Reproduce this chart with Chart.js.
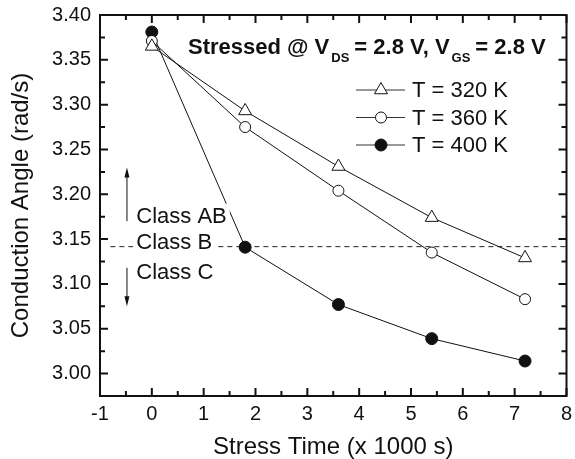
<!DOCTYPE html>
<html>
<head>
<meta charset="utf-8">
<script src="https://cdn.jsdelivr.net/npm/chart.js@4.4.0/dist/chart.umd.min.js"></script>
<style>
  html, body { margin: 0; padding: 0; background: #fff; }
  #wrap { width: 575px; height: 459px; }
</style>
</head>
<body>
<div id="wrap"><canvas id="angleChart" width="575" height="459"></canvas></div>
<script>
// stress time in units of 1000 s
let stressTime = [0, 1.8, 3.6, 5.4, 7.2];
let angle320 = [3.365, 3.293, 3.231, 3.174, 3.129];
let angle360 = [3.371, 3.275, 3.204, 3.135, 3.083];
let angle400 = [3.381, 3.141, 3.077, 3.039, 3.014];
let seriesLabels = ['T = 320 K', 'T = 360 K', 'T = 400 K'];
let xTicks = [-1, 0, 1, 2, 3, 4, 5, 6, 7, 8];
let yTicks = [3.00, 3.05, 3.10, 3.15, 3.20, 3.25, 3.30, 3.35, 3.40];
let classB = Math.PI; // conduction angle at the class B boundary

let FONT = "'Liberation Sans', Arial, Helvetica, sans-serif";
let INK = '#111';

function toPoints(ys) {
    return stressTime.map(function(x, i) { return {x: x, y: ys[i]}; });
}

let seriesStyle = [
    {pointStyle: 'triangle', radius: 7.5, fill: '#fff'},
    {pointStyle: 'circle', radius: 5.5, fill: '#fff'},
    {pointStyle: 'circle', radius: 6, fill: '#111'}
];

let datasets = [angle320, angle360, angle400].map(function(ys, i) {
    let st = seriesStyle[i];
    return {
        label: seriesLabels[i],
        data: toPoints(ys),
        borderColor: INK,
        borderWidth: 1,
        pointStyle: st.pointStyle,
        pointRadius: st.radius,
        pointHoverRadius: st.radius,
        pointBackgroundColor: st.fill,
        pointBorderColor: INK,
        pointBorderWidth: 1,
        tension: 0,
        fill: false
    };
});

// marker for the legend, same shapes the chart uses
function marker(ctx, style, x, y) {
    ctx.save();
    ctx.lineWidth = 1;
    ctx.strokeStyle = INK;
    ctx.fillStyle = style.fill;
    ctx.beginPath();
    if (style.pointStyle === 'triangle') {
        let r = style.radius;
        let a = 0;
        ctx.moveTo(x + Math.sin(a) * r, y - Math.cos(a) * r);
        a += 2 * Math.PI / 3;
        ctx.lineTo(x + Math.sin(a) * r, y - Math.cos(a) * r);
        a += 2 * Math.PI / 3;
        ctx.lineTo(x + Math.sin(a) * r, y - Math.cos(a) * r);
        ctx.closePath();
    } else {
        ctx.arc(x, y, style.radius, 0, Math.PI * 2);
    }
    ctx.fill();
    ctx.stroke();
    ctx.restore();
}

function arrow(ctx, x, y0, y1) {
    let dir = y1 < y0 ? -1 : 1;
    ctx.save();
    ctx.strokeStyle = INK;
    ctx.fillStyle = INK;
    ctx.lineWidth = 1;
    ctx.beginPath();
    ctx.moveTo(x, y0);
    ctx.lineTo(x, y1 - dir * 6);
    ctx.stroke();
    ctx.beginPath();
    ctx.moveTo(x, y1);
    ctx.lineTo(x - 2.5, y1 - dir * 10);
    ctx.lineTo(x + 2.5, y1 - dir * 10);
    ctx.closePath();
    ctx.fill();
    ctx.restore();
}

// class B reference line under the data
let classLine = {
    id: 'classLine',
    beforeDatasetsDraw(chart) {
        let ctx = chart.ctx, xs = chart.scales.x, ys = chart.scales.y;
        let y = ys.getPixelForValue(classB);
        ctx.save();
        ctx.strokeStyle = '#222';
        ctx.lineWidth = 1;
        ctx.setLineDash([5, 4]);
        ctx.beginPath();
        ctx.moveTo(xs.getPixelForValue(-0.8), y);
        ctx.lineTo(xs.getPixelForValue(8), y);
        ctx.stroke();
        ctx.restore();
    }
};

// frame, inward ticks, class labels, heading and legend
let decorations = {
    id: 'decorations',
    afterDatasetsDraw(chart) {
        let ctx = chart.ctx, a = chart.chartArea;
        let xs = chart.scales.x, ys = chart.scales.y;

        // class labels on white boxes
        ctx.save();
        ctx.font = '22px ' + FONT;
        ctx.textBaseline = 'alphabetic';
        ctx.textAlign = 'left';
        let lx = xs.getPixelForValue(-0.3);
        [['Class AB', 3.1684], ['Class B', 3.1385], ['Class C', 3.1058]].forEach(function(c) {
            let by = ys.getPixelForValue(c[1]);
            let w = ctx.measureText(c[0]).width;
            ctx.fillStyle = '#fff';
            ctx.fillRect(lx - 3, by - 19, w + 6, 24);
            ctx.fillStyle = INK;
            ctx.fillText(c[0], lx, by);
        });
        ctx.restore();

        let ax = xs.getPixelForValue(-0.48);
        arrow(ctx, ax, ys.getPixelForValue(3.170), ys.getPixelForValue(3.230));
        arrow(ctx, ax, ys.getPixelForValue(3.118), ys.getPixelForValue(3.075));

        // frame + ticks on all four sides
        ctx.save();
        ctx.strokeStyle = INK;
        ctx.lineWidth = 2;
        ctx.strokeRect(a.left, a.top, a.right - a.left, a.bottom - a.top);
        ctx.beginPath();
        for (let i = 0; i < xTicks.length; i++) {
            let v = xTicks[i];
            let px = xs.getPixelForValue(v);
            ctx.moveTo(px, a.bottom); ctx.lineTo(px, a.bottom - 8);
            ctx.moveTo(px, a.top); ctx.lineTo(px, a.top + 8);
            if (i < xTicks.length - 1) {
                let mx = xs.getPixelForValue(v + 0.5);
                ctx.moveTo(mx, a.bottom); ctx.lineTo(mx, a.bottom - 5);
                ctx.moveTo(mx, a.top); ctx.lineTo(mx, a.top + 5);
            }
        }
        for (let i = 0; i < yTicks.length; i++) {
            let v = yTicks[i];
            let py = ys.getPixelForValue(v);
            ctx.moveTo(a.left, py); ctx.lineTo(a.left + 8, py);
            ctx.moveTo(a.right, py); ctx.lineTo(a.right - 8, py);
            if (i < yTicks.length - 1) {
                let my = ys.getPixelForValue(v + 0.025);
                ctx.moveTo(a.left, my); ctx.lineTo(a.left + 5, my);
                ctx.moveTo(a.right, my); ctx.lineTo(a.right - 5, my);
            }
        }
        ctx.stroke();
        ctx.restore();

        // heading with subscripts
        ctx.save();
        ctx.fillStyle = INK;
        ctx.textBaseline = 'alphabetic';
        ctx.textAlign = 'left';
        let big = 'bold 22px ' + FONT, small = 'bold 13px ' + FONT;
        let parts = [
            ['Stressed @ V', big, 0], ['DS', small, 8], ['= 2.8 V, V', big, 0],
            ['GS', small, 8], ['= 2.8 V', big, 0]
        ];
        let hx = a.left + 88, hy = a.top + 38.5;
        parts.forEach(function(p) {
            ctx.font = p[1];
            ctx.fillText(p[0], hx + (p[2] ? 2 : 0), hy + p[2]);
            hx += ctx.measureText(p[0]).width + (p[2] ? 7 : 0);
        });
        ctx.restore();

        // legend
        ctx.save();
        ctx.font = '22px ' + FONT;
        ctx.textBaseline = 'middle';
        ctx.textAlign = 'left';
        let rows = [75, 102.5, 130];
        seriesLabels.forEach(function(lab, i) {
            let y = a.top + rows[i];
            let x0 = a.left + 256;
            ctx.strokeStyle = '#333';
            ctx.lineWidth = 1;
            ctx.beginPath();
            ctx.moveTo(x0, y); ctx.lineTo(x0 + 49, y);
            ctx.stroke();
            marker(ctx, seriesStyle[i], x0 + 25, y);
            ctx.fillStyle = INK;
            ctx.fillText(lab, x0 + 56, y + 1);
        });
        ctx.restore();
    }
};

let ctx = document.getElementById('angleChart').getContext('2d');
let angleChart = new Chart(ctx, {
    type: 'line',
    data: { datasets: datasets },
    options: {
        responsive: false,
        animation: false,
        events: [],
        layout: { padding: { left: 0, top: 15, right: 7, bottom: 0 } },
        plugins: { legend: { display: false }, tooltip: { enabled: false } },
        scales: {
            x: {
                type: 'linear',
                min: -1,
                max: 8,
                afterFit: function(s) {
                    s.height = 63;
                    s.paddingLeft = 0;
                    s.paddingRight = 0;
                },
                afterBuildTicks: function(s) { s.ticks = xTicks.map(function(v) { return {value: v}; }); },
                grid: { display: false, drawTicks: false },
                border: { display: false },
                ticks: {
                    padding: 6,
                    color: INK,
                    font: { family: FONT, size: 20 },
                    maxRotation: 0,
                    callback: function(v) { return String(v); }
                },
                title: {
                    display: true,
                    text: 'Stress Time (x 1000 s)',
                    color: INK,
                    font: { family: FONT, size: 24 },
                    padding: { top: 0, bottom: -3 }
                }
            },
            y: {
                type: 'linear',
                min: 2.975,
                max: 3.40,
                afterFit: function(s) {
                    s.width = 100;
                    s.paddingTop = 0;
                    s.paddingBottom = 0;
                },
                afterBuildTicks: function(s) { s.ticks = yTicks.map(function(v) { return {value: v}; }); },
                grid: { display: false, drawTicks: false },
                border: { display: false },
                ticks: {
                    padding: 9,
                    color: INK,
                    font: { family: FONT, size: 20 },
                    callback: function(v) { return Number(v).toFixed(2); }
                },
                title: {
                    display: true,
                    text: 'Conduction Angle (rad/s)',
                    color: INK,
                    font: { family: FONT, size: 24 },
                    padding: { top: 7, bottom: 0 }
                }
            }
        }
    },
    plugins: [classLine, decorations]
});
</script>
</body>
</html>
